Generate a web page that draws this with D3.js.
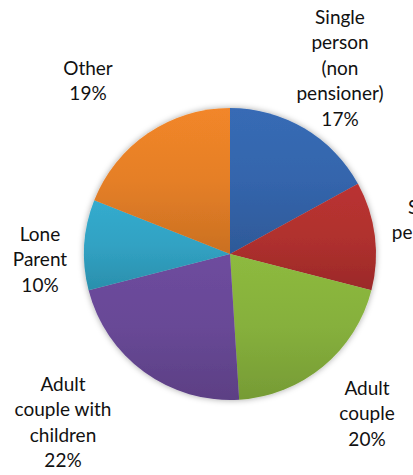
<!DOCTYPE html>
<html>
<head>
<meta charset="utf-8">
<script src="https://cdn.jsdelivr.net/npm/d3@7"></script>
<style>
  html, body { margin: 0; padding: 0; background: #fff; overflow: hidden; }
  svg { display: block; }
  text { font-family: Lato, "Open Sans", sans-serif; fill: #111; }
</style>
</head>
<body>
<svg id="chart" width="413" height="475"></svg>
<script>
// Household types and their share (%), clockwise from 12 o'clock
const categories = [
  "Single person (non pensioner)",
  "Single pensioner",
  "Adult couple",
  "Adult couple with children",
  "Lone Parent",
  "Other"
];
const shares = [17, 12, 20, 22, 10, 19];
// Label text broken into lines as printed beside each slice
const labelLines = [
  ["Single", "person", "(non", "pensioner)"],
  ["Single", "pensioner"],
  ["Adult", "couple"],
  ["Adult", "couple with", "children"],
  ["Lone", "Parent"],
  ["Other"]
];
const colors = ["#3465ac", "#b0302e", "#86b03c", "#684896", "#31a2c3", "#e57f27"];

// Layout
const W = 413, H = 475;
const cx = 230, cy = 254, R = 146;
const lineH = 25.5;
// Centre of each label block (x) and centre of its first line (y)
const labelPos = [
  [340, 17], [433, 207], [367, 388], [63, 384], [40, 234], [88, 68]
];

const svg = d3.select("#chart");
const defs = svg.append("defs");

const shadow = defs.append("filter").attr("id", "pieShadow")
  .attr("x", "-20%").attr("y", "-20%").attr("width", "140%").attr("height", "140%");
shadow.append("feDropShadow").attr("dx", 0).attr("dy", 0)
  .attr("stdDeviation", 3).attr("flood-color", "#000").attr("flood-opacity", 0.35);

// Subtle top-to-bottom shading on each slice
colors.forEach((c, i) => {
  const g = defs.append("linearGradient").attr("id", "grad" + i)
    .attr("x1", 0).attr("y1", 0).attr("x2", 0).attr("y2", 1);
  g.append("stop").attr("offset", 0).attr("stop-color", d3.color(c).brighter(0.15));
  g.append("stop").attr("offset", 0.5).attr("stop-color", c);
  g.append("stop").attr("offset", 1).attr("stop-color", d3.color(c).darker(0.35));
});

const pie = d3.pie().sort(null).value(d => d.value);
const arc = d3.arc().innerRadius(0).outerRadius(R);
const data = categories.map((name, i) => ({ name, value: shares[i], i }));

const g = svg.append("g").attr("transform", `translate(${cx},${cy})`)
  .attr("filter", "url(#pieShadow)");
g.selectAll("path").data(pie(data)).join("path")
  .attr("d", arc)
  .attr("fill", d => `url(#grad${d.data.i})`);

// Labels
const labels = svg.append("g");
data.forEach((d, i) => {
  const lines = labelLines[i].concat([d3.format("d")(d.value) + "%"]);
  const [lx, ly] = labelPos[i];
  const t = labels.append("text")
    .attr("text-anchor", "middle")
    .attr("font-size", 19);
  lines.forEach((ln, k) => {
    t.append("tspan")
      .attr("x", lx)
      .attr("y", ly + k * lineH)
      .attr("dy", "0.35em")
      .text(ln);
  });
});
</script>
</body>
</html>
